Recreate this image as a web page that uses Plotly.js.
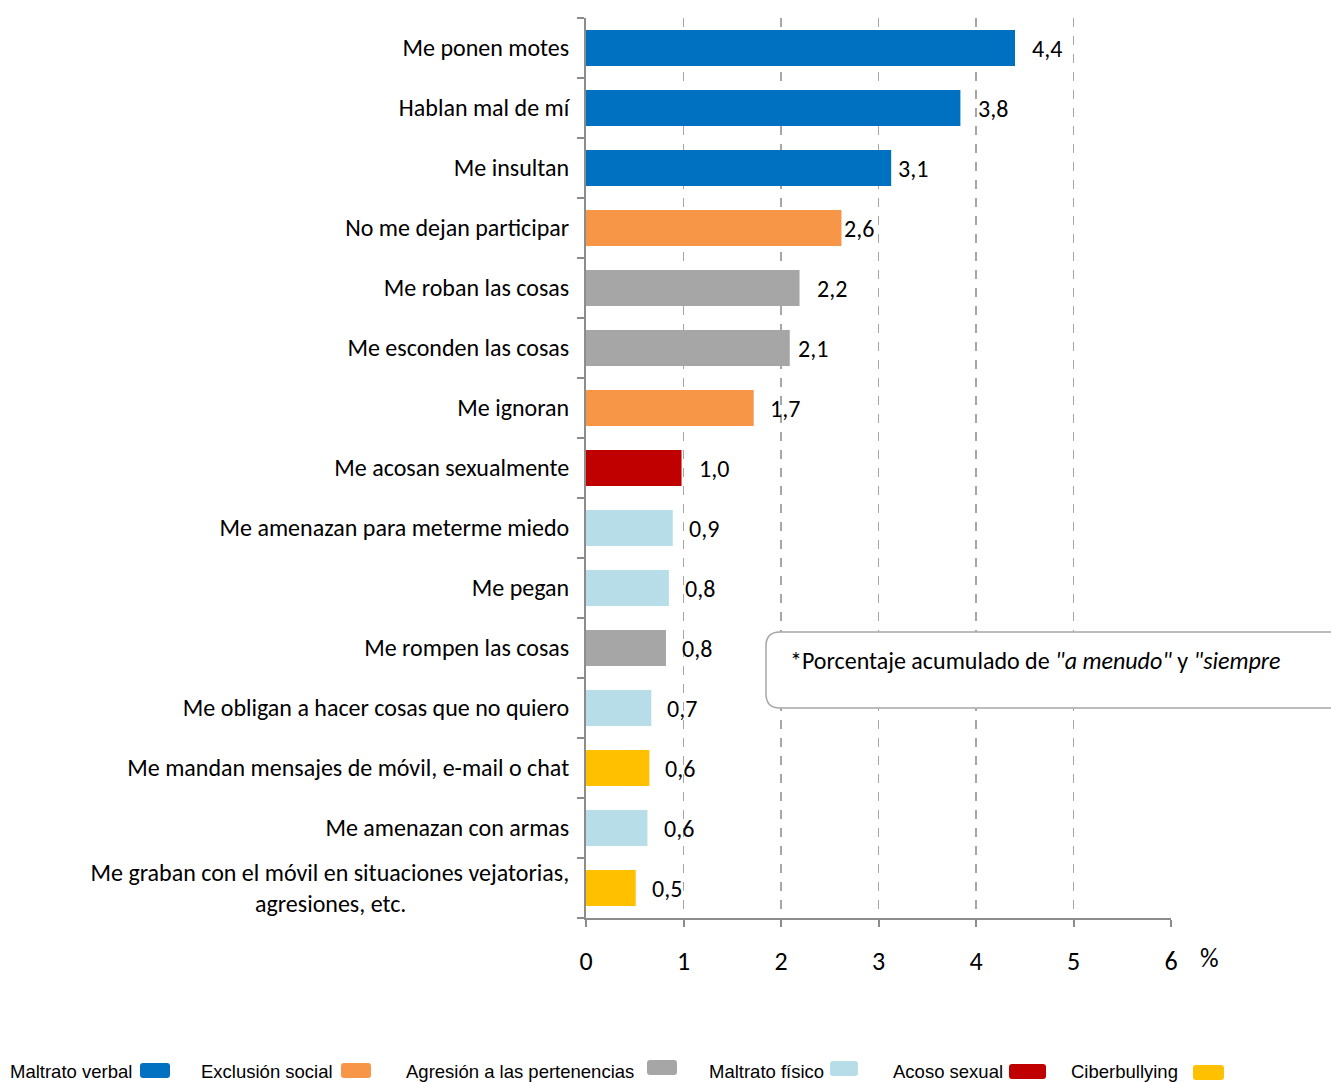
<!DOCTYPE html>
<html>
<head>
<meta charset="utf-8">
<script src="https://cdn.plot.ly/plotly-3.0.1.min.js"></script>
<style>
  html, body { margin: 0; padding: 0; background: #fff; }
  #chart { width: 1331px; height: 1082px; }
</style>
</head>
<body>
<div id="chart"></div>
<script>
// ---------- DATA ----------
var categories = [
  "Me ponen motes",
  "Hablan mal de mí",
  "Me insultan",
  "No me dejan participar",
  "Me roban las cosas",
  "Me esconden las cosas",
  "Me ignoran",
  "Me acosan sexualmente",
  "Me amenazan para meterme miedo",
  "Me pegan",
  "Me rompen las cosas",
  "Me obligan a hacer cosas que no quiero",
  "Me mandan mensajes de móvil, e-mail o chat",
  "Me amenazan con armas",
  "Me graban con el móvil en situaciones vejatorias,<br>agresiones, etc."
];
var values = [4.40, 3.84, 3.13, 2.62, 2.19, 2.09, 1.72, 0.98, 0.89, 0.85, 0.82, 0.67, 0.65, 0.63, 0.51];
var valueLabels = ["4,4", "3,8", "3,1", "2,6", "2,2", "2,1", "1,7", "1,0", "0,9", "0,8", "0,8", "0,7", "0,6", "0,6", "0,5"];
var groups = [
  "Maltrato verbal", "Maltrato verbal", "Maltrato verbal",
  "Exclusión social",
  "Agresión a las pertenencias", "Agresión a las pertenencias",
  "Exclusión social",
  "Acoso sexual",
  "Maltrato físico", "Maltrato físico",
  "Agresión a las pertenencias",
  "Maltrato físico",
  "Ciberbullying",
  "Maltrato físico",
  "Ciberbullying"
];
var legendGroups = ["Maltrato verbal", "Exclusión social", "Agresión a las pertenencias", "Maltrato físico", "Acoso sexual", "Ciberbullying"];
var xTickValues = [0, 1, 2, 3, 4, 5, 6];
var noteText = '*Porcentaje acumulado de <i>"a menudo"</i> y <i>"siempre</i>';

// ---------- STYLE ----------
var groupColors = {
  "Maltrato verbal": "#0070C0",
  "Exclusión social": "#F79646",
  "Agresión a las pertenencias": "#A6A6A6",
  "Maltrato físico": "#B7DEE8",
  "Acoso sexual": "#C00000",
  "Ciberbullying": "#FFC000"
};
var labelShiftPx = [16, 17, 6, 2, 16, 7, 15, 16, 15, 15, 15, 15, 15, 16, 15];
var legendTextLeftPx = [8, 199, 404, 707, 891, 1069];
var legendBoxLeftPx = [140, 341, 647, 830, 1009, 1193];
var legendBoxWidthPx = [30, 30, 30, 28, 37, 31];
var legendBoxTopPx = [1063, 1063, 1060, 1061, 1064, 1065];

var W = 1331, H = 1082;
var M = {l: 586, r: 160, t: 18, b: 164};
var PW = W - M.l - M.r, PH = H - M.t - M.b;
function px2x(px) { return (px - M.l) / PW; }
function px2y(py) { return (H - M.b - py) / PH; }

var labelFont = "Carlito, Calibri, 'Open Sans', sans-serif";
var legendFont = "'Liberation Sans', Arial, sans-serif";

// pad second line of multi-line label so it appears centered
var tickText = categories.map(function (c) {
  if (c.indexOf("<br>") >= 0) {
    var parts = c.split("<br>");
    var pad = "";
    for (var i = 0; i < 30; i++) pad += "\u00a0";
    return parts[0] + "<br>" + parts[1] + pad;
  }
  return c;
});

var trace = {
  type: "bar",
  orientation: "h",
  y: categories,
  x: values,
  marker: {color: groups.map(function (g) { return groupColors[g]; })},
  width: 0.6,
  hoverinfo: "skip",
  showlegend: false
};

var annotations = [];
values.forEach(function (v, i) {
  annotations.push({
    x: v, y: categories[i], xref: "x", yref: "y",
    text: valueLabels[i], showarrow: false,
    xanchor: "left", yanchor: "middle", xshift: labelShiftPx[i] - 1,
    font: {family: labelFont, size: 24, color: "#000"}
  });
});
annotations.push({
  x: px2x(1198), y: px2y(958), xref: "paper", yref: "paper",
  text: "%", showarrow: false, xanchor: "left", yanchor: "middle",
  font: {family: labelFont, size: 26, color: "#000"}
});
annotations.push({
  x: px2x(788), y: px2y(660), xref: "paper", yref: "paper",
  text: noteText, showarrow: false, xanchor: "left", yanchor: "middle",
  font: {family: labelFont, size: 24, color: "#000"}
});

var shapes = [];
// rounded note box
(function () {
  var x0 = 766, x1 = 1345, y0 = 632, y1 = 708, r = 14;
  var p = "M " + px2x(x0 + r) + "," + px2y(y0) +
    " L " + px2x(x1 - r) + "," + px2y(y0) +
    " Q " + px2x(x1) + "," + px2y(y0) + " " + px2x(x1) + "," + px2y(y0 + r) +
    " L " + px2x(x1) + "," + px2y(y1 - r) +
    " Q " + px2x(x1) + "," + px2y(y1) + " " + px2x(x1 - r) + "," + px2y(y1) +
    " L " + px2x(x0 + r) + "," + px2y(y1) +
    " Q " + px2x(x0) + "," + px2y(y1) + " " + px2x(x0) + "," + px2y(y1 - r) +
    " L " + px2x(x0) + "," + px2y(y0 + r) +
    " Q " + px2x(x0) + "," + px2y(y0) + " " + px2x(x0 + r) + "," + px2y(y0) + " Z";
  shapes.push({type: "path", xref: "paper", yref: "paper", path: p,
    fillcolor: "#fff", line: {color: "#a6a6a6", width: 1.5}, layer: "above"});
})();

legendGroups.forEach(function (g, i) {
  annotations.push({
    x: px2x(legendTextLeftPx[i]), y: px2y(1071), xref: "paper", yref: "paper",
    text: g, showarrow: false, xanchor: "left", yanchor: "middle",
    font: {family: legendFont, size: 18.5, color: "#000"}
  });
  var x0 = legendBoxLeftPx[i], x1 = x0 + legendBoxWidthPx[i];
  var y0 = legendBoxTopPx[i], y1 = y0 + 15, r = 3;
  var p = "M " + px2x(x0 + r) + "," + px2y(y0) +
    " L " + px2x(x1 - r) + "," + px2y(y0) +
    " Q " + px2x(x1) + "," + px2y(y0) + " " + px2x(x1) + "," + px2y(y0 + r) +
    " L " + px2x(x1) + "," + px2y(y1 - r) +
    " Q " + px2x(x1) + "," + px2y(y1) + " " + px2x(x1 - r) + "," + px2y(y1) +
    " L " + px2x(x0 + r) + "," + px2y(y1) +
    " Q " + px2x(x0) + "," + px2y(y1) + " " + px2x(x0) + "," + px2y(y1 - r) +
    " L " + px2x(x0) + "," + px2y(y0 + r) +
    " Q " + px2x(x0) + "," + px2y(y0) + " " + px2x(x0 + r) + "," + px2y(y0) + " Z";
  shapes.push({type: "path", xref: "paper", yref: "paper", path: p,
    fillcolor: groupColors[g], line: {width: 0}});
});

var layout = {
  width: W, height: H,
  margin: M,
  paper_bgcolor: "#fff",
  plot_bgcolor: "#fff",
  showlegend: false,
  bargap: 0.4,
  xaxis: {
    range: [0, 6],
    tickvals: xTickValues,
    ticktext: xTickValues.map(String),
    showgrid: true,
    gridcolor: "#a6a6a6",
    gridwidth: 1.5,
    griddash: "dash",
    zeroline: false,
    showline: true,
    linecolor: "#8c8c8c",
    linewidth: 2,
    ticks: "outside",
    ticklen: 7,
    tickwidth: 2,
    tickcolor: "#8c8c8c",
    ticklabelstandoff: 12,
    tickfont: {family: labelFont, size: 26, color: "#000"},
    fixedrange: true
  },
  yaxis: {
    type: "category",
    autorange: false,
    range: [categories.length - 0.5, -0.5],
    tickvals: categories,
    ticktext: tickText,
    tickson: "boundaries",
    ticks: "outside",
    ticklen: 7,
    tickwidth: 2,
    tickcolor: "#8c8c8c",
    showline: true,
    linecolor: "#8c8c8c",
    linewidth: 2,
    showgrid: false,
    zeroline: false,
    ticklabelstandoff: 10,
    tickfont: {family: labelFont, size: 24, color: "#000"},
    fixedrange: true
  },
  annotations: annotations,
  shapes: shapes
};

Plotly.newPlot("chart", [trace], layout, {displayModeBar: false, staticPlot: true});
</script>
</body>
</html>
